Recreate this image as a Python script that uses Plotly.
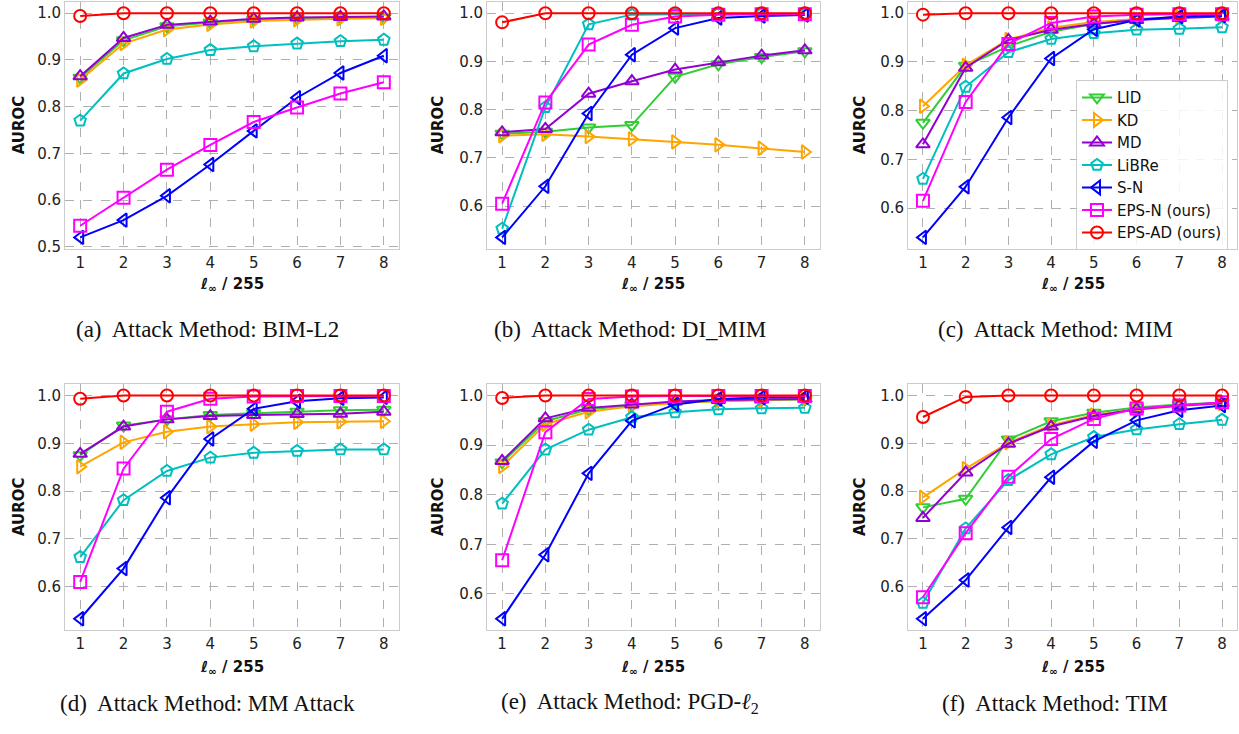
import plotly.graph_objects as go

# ---------------- data ----------------
eps_steps = [1, 2, 3, 4, 5, 6, 7, 8]
x_tick_labels = ["1", "2", "3", "4", "5", "6", "7", "8"]
methods = ["LID", "KD", "MD", "LiBRe", "S-N", "EPS-N (ours)", "EPS-AD (ours)"]

# rows follow the order of `methods`
auroc_bim_l2 = [
    [0.862, 0.942, 0.972, 0.980, 0.986, 0.989, 0.990, 0.991],
    [0.857, 0.935, 0.965, 0.976, 0.983, 0.986, 0.988, 0.989],
    [0.865, 0.947, 0.975, 0.982, 0.988, 0.991, 0.992, 0.993],
    [0.770, 0.871, 0.902, 0.921, 0.929, 0.935, 0.940, 0.943],
    [0.520, 0.557, 0.609, 0.676, 0.748, 0.819, 0.872, 0.909],
    [0.545, 0.605, 0.665, 0.718, 0.767, 0.798, 0.828, 0.852],
    [0.994, 1.000, 1.000, 1.000, 1.000, 1.000, 1.000, 1.000],
]
auroc_di_mim = [
    [0.750, 0.754, 0.763, 0.768, 0.868, 0.894, 0.909, 0.921],
    [0.746, 0.749, 0.744, 0.739, 0.733, 0.727, 0.720, 0.712],
    [0.753, 0.760, 0.833, 0.859, 0.883, 0.898, 0.912, 0.923],
    [0.553, 0.805, 0.977, 0.997, 0.998, 0.999, 0.999, 0.999],
    [0.535, 0.641, 0.792, 0.914, 0.969, 0.990, 0.994, 0.996],
    [0.605, 0.815, 0.935, 0.976, 0.993, 0.997, 0.998, 0.998],
    [0.981, 1.000, 1.000, 1.000, 1.000, 1.000, 1.000, 1.000],
]
auroc_mim = [
    [0.775, 0.892, 0.932, 0.962, 0.978, 0.987, 0.992, 0.995],
    [0.809, 0.893, 0.946, 0.970, 0.982, 0.988, 0.992, 0.995],
    [0.731, 0.888, 0.945, 0.966, 0.978, 0.986, 0.990, 0.993],
    [0.660, 0.849, 0.920, 0.947, 0.959, 0.966, 0.968, 0.971],
    [0.540, 0.644, 0.786, 0.907, 0.967, 0.986, 0.993, 0.995],
    [0.615, 0.818, 0.937, 0.980, 0.993, 0.997, 0.998, 0.998],
    [0.997, 1.000, 1.000, 1.000, 1.000, 1.000, 1.000, 1.000],
]
auroc_mm_attack = [
    [0.875, 0.937, 0.950, 0.959, 0.963, 0.966, 0.969, 0.970],
    [0.851, 0.902, 0.924, 0.935, 0.940, 0.944, 0.945, 0.946],
    [0.878, 0.935, 0.950, 0.957, 0.959, 0.961, 0.962, 0.966],
    [0.662, 0.781, 0.842, 0.870, 0.880, 0.884, 0.887, 0.887],
    [0.533, 0.638, 0.786, 0.909, 0.972, 0.988, 0.994, 0.996],
    [0.610, 0.847, 0.966, 0.993, 0.998, 0.999, 0.999, 0.999],
    [0.993, 1.000, 1.000, 1.000, 1.000, 1.000, 1.000, 1.000],
]
auroc_pgd_l2 = [
    [0.865, 0.948, 0.972, 0.980, 0.986, 0.989, 0.991, 0.992],
    [0.857, 0.942, 0.967, 0.978, 0.985, 0.989, 0.991, 0.993],
    [0.868, 0.954, 0.975, 0.982, 0.988, 0.991, 0.992, 0.993],
    [0.782, 0.891, 0.931, 0.956, 0.966, 0.972, 0.974, 0.975],
    [0.550, 0.679, 0.843, 0.949, 0.982, 0.993, 0.996, 0.997],
    [0.668, 0.926, 0.993, 0.998, 0.999, 0.999, 0.999, 0.999],
    [0.995, 1.000, 1.000, 1.000, 1.000, 1.000, 1.000, 1.000],
]
auroc_tim = [
    [0.766, 0.784, 0.908, 0.946, 0.964, 0.975, 0.981, 0.985],
    [0.787, 0.847, 0.901, 0.938, 0.959, 0.970, 0.978, 0.983],
    [0.744, 0.839, 0.899, 0.935, 0.957, 0.971, 0.979, 0.984],
    [0.566, 0.722, 0.823, 0.877, 0.913, 0.929, 0.940, 0.949],
    [0.533, 0.614, 0.724, 0.829, 0.904, 0.948, 0.969, 0.979],
    [0.578, 0.712, 0.830, 0.909, 0.951, 0.973, 0.979, 0.986],
    [0.955, 0.997, 1.000, 1.000, 1.000, 1.000, 1.000, 1.000],
]

captions = [
    "(a)\u00a0 Attack Method: BIM-L2",
    "(b)\u00a0 Attack Method: DI_MIM",
    "(c)\u00a0 Attack Method: MIM",
    "(d)\u00a0 Attack Method: MM Attack",
    "(e)\u00a0 Attack Method: PGD-<i>ℓ</i><sub>2</sub>",
    "(f)\u00a0 Attack Method: TIM",
]
panels = [auroc_bim_l2, auroc_di_mim, auroc_mim, auroc_mm_attack, auroc_pgd_l2, auroc_tim]

# ---------------- style ----------------
colors = ["#32CD32", "#FFA500", "#9400D3", "#00BFBF", "#0000FF", "#FF00FF", "#FF0000"]
symbols = ["triangle-down-open", "triangle-right-open", "triangle-up-open",
           "pentagon-open", "triangle-left-open", "square-open", "circle-open"]

W, H = 1239, 734
col_px = [(65, 399), (487, 820), (908, 1237)]
row_px = [(2, 251), (388, 636)]
ylab_x = [19, 438, 860]
xlab_y = [287, 674]
cap_x = [207, 630, 1055]
cap_y = [333, 710]

SANS = "DejaVu Sans"
SERIF = "Liberation Serif"

fig = go.Figure()
annotations = []
layout_axes = {}

for p, data in enumerate(panels):
    r, c = divmod(p, 3)
    idx = p + 1
    xa = "x" if idx == 1 else f"x{idx}"
    ya = "y" if idx == 1 else f"y{idx}"
    for m, name in enumerate(methods):
        fig.add_trace(go.Scatter(
            x=eps_steps, y=data[m], mode="lines+markers", name=name,
            xaxis=xa, yaxis=ya,
            line=dict(color=colors[m], width=2),
            marker=dict(symbol=symbols[m], size=12, color=colors[m],
                        line=dict(width=2, color=colors[m])),
            showlegend=(p == 2),
        ))
    vals = [v for row in data for v in row]
    lo, hi = min(vals), max(vals)
    pad = 0.05 * (hi - lo)
    x0, x1 = col_px[c]
    t, b = row_px[r]
    common = dict(showline=True, mirror=True, linecolor="#cccccc", linewidth=1,
                  showgrid=True, gridcolor="#b0b0b0", griddash="dash", gridwidth=1,
                  zeroline=False, ticks="", ticklabeloverflow="allow",
                  tickfont=dict(family=SANS, size=15, color="#222"))
    layout_axes["xaxis" if idx == 1 else f"xaxis{idx}"] = dict(
        domain=[x0 / W, x1 / W], anchor=ya, range=[0.65, 8.35],
        tickvals=eps_steps, ticktext=x_tick_labels, **common)
    layout_axes["yaxis" if idx == 1 else f"yaxis{idx}"] = dict(
        domain=[1 - b / H, 1 - t / H], anchor=xa, range=[lo - pad, hi + pad],
        tick0=0, dtick=0.1, tickformat=".1f", **common)

    annotations.append(dict(text="<b>AUROC</b>", x=ylab_x[c] / W, y=1 - (t + b) / 2 / H,
                            xref="paper", yref="paper", showarrow=False, textangle=-90,
                            xanchor="center", yanchor="middle",
                            font=dict(family=SANS, size=15, color="#111")))
    annotations.append(dict(text="<b><i>ℓ</i><sub>∞</sub> / 255</b>", x=(x0 + x1) / 2 / W,
                            y=1 - xlab_y[r] / H, xref="paper", yref="paper", showarrow=False,
                            xanchor="center", yanchor="middle",
                            font=dict(family=SANS, size=15, color="#111")))
    annotations.append(dict(text=captions[p], x=cap_x[c] / W, y=1 - cap_y[r] / H,
                            xref="paper", yref="paper", showarrow=False,
                            xanchor="center", yanchor="middle",
                            font=dict(family=SERIF, size=23, color="#111")))

fig.update_layout(
    width=W, height=H, margin=dict(l=0, r=0, t=0, b=0),
    paper_bgcolor="white", plot_bgcolor="white",
    annotations=annotations,
    legend=dict(x=1076 / W, y=1 - 81 / H, xanchor="left", yanchor="top",
                bgcolor="rgba(255,255,255,0.85)", bordercolor="#cccccc", borderwidth=1,
                font=dict(family=SANS, size=15, color="#111"), itemwidth=30,
                tracegroupgap=0),
    **layout_axes,
)

fig.write_html("out.html", config={"displayModeBar": False},
               post_script="document.body.style.margin='0';document.body.style.overflow='hidden';")
